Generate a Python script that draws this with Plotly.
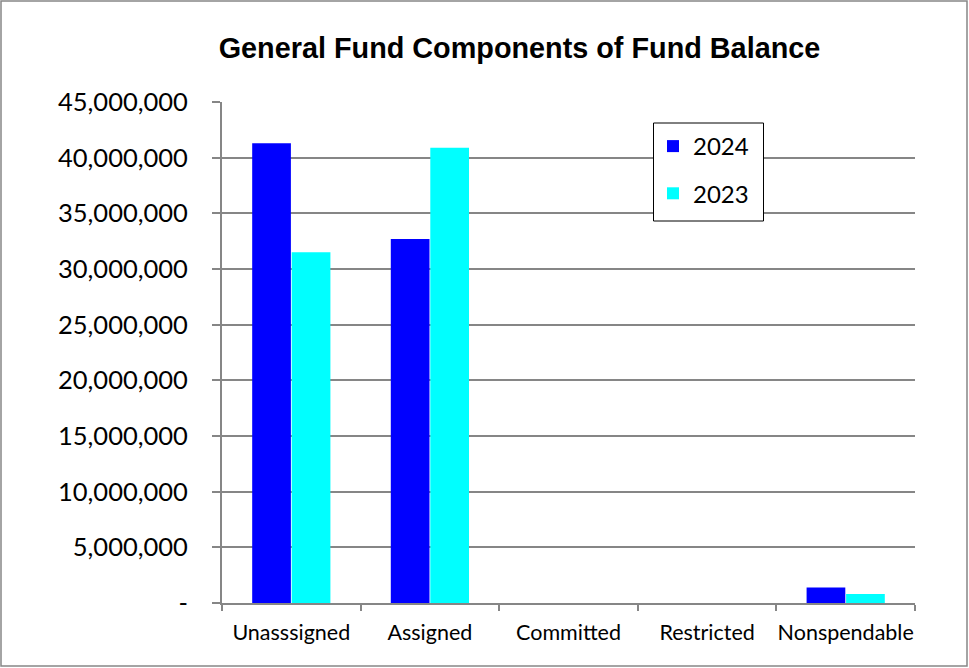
import plotly.graph_objects as go

categories = ["Unassigned", "Assigned", "Committed", "Restricted", "Nonspendable"]
cat_labels = ["Unasssigned", "Assigned", "Committed", "Restricted", "Nonspendable"]
values_2024 = [41300000, 32700000, 0, 0, 1400000]
values_2023 = [31500000, 40900000, 0, 0, 800000]
y_ticks = [0, 5000000, 10000000, 15000000, 20000000, 25000000, 30000000, 35000000, 40000000, 45000000]
y_tick_text = ["-"] + [f"{v:,}" for v in y_ticks[1:]]

W, H = 969, 668
L, R, T, B = 222, 54, 102, 65
pw, ph = W - L - R, H - T - B

def px_x(x):
    return (x - L) / pw

def px_y(y):
    return (H - B - y) / ph

font = "Lato, Liberation Sans, sans-serif"

fig = go.Figure()
fig.add_trace(go.Bar(name="2024", x=cat_labels, y=values_2024,
                     marker=dict(color="#0000FF", line=dict(width=0)), legendgroup="a"))
fig.add_trace(go.Bar(name="2023", x=cat_labels, y=values_2023,
                     marker=dict(color="#00FFFF", line=dict(width=0)), legendgroup="b"))

fig.update_layout(
    width=W, height=H,
    margin=dict(l=L, r=R, t=T, b=B, autoexpand=False),
    paper_bgcolor="white", plot_bgcolor="white",
    barmode="group", bargap=0.43, bargroupgap=0.02,
    title=dict(text="<b>General Fund Components of Fund Balance</b>", x=519.5 / W, xref="container", xanchor="center",
               y=1 - 48 / H, yref="container", yanchor="middle",
               font=dict(family="Liberation Sans, Arial, sans-serif", size=28.8, color="black")),
    font=dict(family=font, size=21, color="black"),
    legend=dict(x=px_x(653), y=px_y(124), xanchor="left", yanchor="top",
                borderwidth=0, bgcolor="rgba(0,0,0,0)",
                font=dict(family=font, size=24), tracegroupgap=13, traceorder="grouped"),
    showlegend=True,
)
fig.update_xaxes(showline=True, linecolor="#868686", linewidth=2, ticks="outside", tickson="boundaries",
                 ticklen=6, tickcolor="#868686", tickwidth=2, showgrid=False, tickangle=0, automargin=False,
                 ticklabelstandoff=9, tickfont=dict(family=font, size=21.5))
fig.update_yaxes(range=[0, 45000000], tickvals=y_ticks, ticktext=y_tick_text, automargin=False,
                 showline=True, linecolor="#868686", linewidth=2, ticks="outside", ticklen=8,
                 tickcolor="#868686", tickwidth=2, showgrid=True, gridcolor="#868686", gridwidth=2,
                 zeroline=False, ticklabelstandoff=19, tickfont=dict(family=font, size=25.5))

fig.add_shape(type="rect", xref="paper", yref="paper",
              x0=px_x(1), x1=px_x(967), y0=px_y(666), y1=px_y(1),
              line=dict(color="#868686", width=1.5), fillcolor="rgba(0,0,0,0)", layer="below")
fig.add_shape(type="rect", xref="paper", yref="paper",
              x0=px_x(653.5), x1=px_x(763.5), y0=px_y(221), y1=px_y(123),
              line=dict(color="#000000", width=1), fillcolor="white", layer="above")

fig.write_html("out.html", config={"displayModeBar": False},
               post_script="document.body.style.margin='0';")
